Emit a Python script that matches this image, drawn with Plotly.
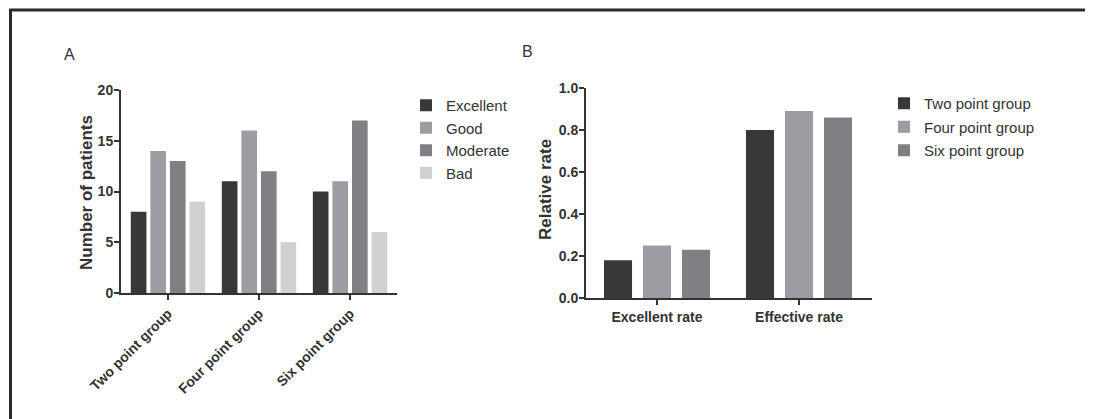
import plotly.graph_objects as go

# ---- Data ----
groups_a = ["Two point group", "Four point group", "Six point group"]
excellent = [8, 11, 10]
good = [14, 16, 11]
moderate = [13, 12, 17]
bad = [9, 5, 6]
series_a_names = ["Excellent", "Good", "Moderate", "Bad"]

cats_b = ["Excellent rate", "Effective rate"]
two_point = [0.18, 0.80]
four_point = [0.25, 0.89]
six_point = [0.23, 0.86]
series_b_names = ["Two point group", "Four point group", "Six point group"]

c_dark = "#38373a"
c_light = "#9b9da2"
c_mid = "#7f8084"
c_pale = "#d0d0d2"
txt = "#333333"
font_family = "Arial, Liberation Sans, sans-serif"

W, H = 1093, 419
OFF = 8  # page body margin


def px_x(p):
    return (p - OFF) / W


def px_y(p):
    return 1 - (p - OFF) / H


fig = go.Figure()

for name, vals, col in zip(series_a_names, [excellent, good, moderate, bad],
                           [c_dark, c_light, c_mid, c_pale]):
    fig.add_trace(go.Bar(x=groups_a, y=vals, name=name, marker_color=col,
                         marker_line_width=0, xaxis="x", yaxis="y",
                         legend="legend", legendgroup=name))

for name, vals, col in zip(series_b_names, [two_point, four_point, six_point],
                           [c_dark, c_light, c_mid]):
    fig.add_trace(go.Bar(x=cats_b, y=vals, name=name, marker_color=col,
                         marker_line_width=0, xaxis="x2", yaxis="y2",
                         legend="legend2", legendgroup="b" + name))

axis_common = dict(showline=True, linecolor="#333333", linewidth=2,
                   ticks="outside", ticklen=5, tickwidth=2, tickcolor="#333333",
                   showgrid=False, zeroline=False, automargin=False)

bold14 = dict(size=14, family=font_family, weight="bold", color=txt)

fig.update_layout(
    width=W, height=H,
    margin=dict(l=0, r=0, t=0, b=0, autoexpand=False),
    paper_bgcolor="white", plot_bgcolor="white",
    font=dict(family=font_family, color=txt),
    barmode="group",
    bargap=0.14, bargroupgap=0.2,
    showlegend=True,
    xaxis=dict(domain=[px_x(121), px_x(397)], range=[-0.516, 2.516],
               anchor="y", tickangle=-45, tickfont=bold14,
               **axis_common),
    yaxis=dict(domain=[px_y(293), px_y(90)], range=[0, 20], anchor="x",
               tickvals=[0, 5, 10, 15, 20], tickfont=bold14,
               ticklabelstandoff=-2,
               **axis_common),
    xaxis2=dict(domain=[px_x(586), px_x(872)], range=[-0.5, 1.514],
                anchor="y2", tickfont=bold14,
                **axis_common),
    yaxis2=dict(domain=[px_y(298), px_y(88)], range=[0, 1.0], anchor="x2",
                tickvals=[0, 0.2, 0.4, 0.6, 0.8, 1.0], tickformat=".1f",
                tickfont=bold14, ticklabelstandoff=-2,
                **axis_common),
    legend=dict(x=px_x(406), y=px_y(89), xanchor="left", yanchor="top",
                font=dict(size=15, family=font_family, color=txt),
                tracegroupgap=0, bgcolor="rgba(0,0,0,0)"),
    legend2=dict(x=px_x(884), y=px_y(87), xanchor="left", yanchor="top",
                 font=dict(size=15, family=font_family, color=txt),
                 tracegroupgap=1, bgcolor="rgba(0,0,0,0)"),
    annotations=[
        dict(text="A", x=px_x(69), y=px_y(54), xref="paper", yref="paper",
             xanchor="center", yanchor="middle", showarrow=False,
             font=dict(size=16, family=font_family, color=txt)),
        dict(text="B", x=px_x(527), y=px_y(52), xref="paper", yref="paper",
             xanchor="center", yanchor="middle", showarrow=False,
             font=dict(size=16, family=font_family, color=txt)),
        dict(text="Number of patients", x=px_x(87), y=px_y(193), xref="paper",
             yref="paper", xanchor="center", yanchor="middle",
             showarrow=False, textangle=-90,
             font=dict(size=17, family=font_family, weight="bold", color=txt)),
        dict(text="Relative rate", x=px_x(545), y=px_y(190), xref="paper",
             yref="paper", xanchor="center", yanchor="middle",
             showarrow=False, textangle=-90,
             font=dict(size=17, family=font_family, weight="bold", color=txt)),
    ],
    shapes=[
        dict(type="line", xref="paper", yref="paper", x0=px_x(9), x1=1,
             y0=px_y(10), y1=px_y(10), line=dict(color="#2a2a2a", width=3)),
        dict(type="line", xref="paper", yref="paper", x0=px_x(10.5), x1=px_x(10.5),
             y0=px_y(9), y1=0, line=dict(color="#2a2a2a", width=3)),
    ],
)

# Panel B bars have their own spacing
slot_b = (1 - 0.176) / 3
bar_b = slot_b * (1 - 0.28)
for i, tr in enumerate(fig.data[4:]):
    tr.width = bar_b
    tr.offset = -1.5 * slot_b + i * slot_b + (slot_b - bar_b) / 2

fig.write_html("out.html")
